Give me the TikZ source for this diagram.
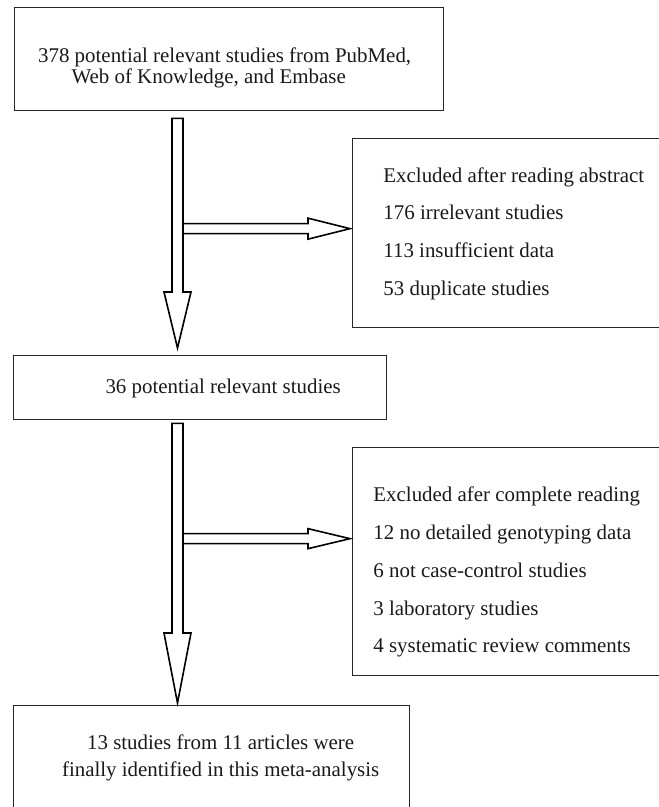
\documentclass[tikz,border=0pt]{standalone}
\usepackage{fontspec}
\setmainfont{Liberation Serif}
\usetikzlibrary{calc, positioning}

\begin{document}
\begin{tikzpicture}[x=0.5bp, y=-0.5bp, line join=miter,
    box/.style={draw=black!85, line width=0.65bp, anchor=north west, inner sep=0pt},
    txt/.style={font=\fontsize{10.5}{19}\selectfont, inner sep=0pt, text=black!90},
    hollow/.style={draw=black, line width=0.8bp, fill=white}]

    % =================================================================
    % 1. PAGE FRAME
    % =================================================================
    \useasboundingbox (0,0) rectangle (659,807);
    \clip (0,0) rectangle (659,807);

    % =================================================================
    % 2. BOXES
    % =================================================================
    \node[box, minimum width=214.5bp, minimum height=51.5bp] (search) at (14,7) {};
    \node[box, minimum width=165bp, minimum height=94.5bp] (excl1) at (352,138) {};
    \node[box, minimum width=186.5bp, minimum height=32bp] (mid) at (13,355) {};
    \node[box, minimum width=165bp, minimum height=114bp] (excl2) at (352,447) {};
    \node[box, minimum width=198bp, minimum height=55bp] (final) at (13,705) {};

    % =================================================================
    % 3. TEXTS
    % =================================================================
    \node[txt, align=center, font=\fontsize{10.5}{10.5}\selectfont] (searchtxt)
        at ($(search.center)+(-4.5,9)$)
        {378 potential relevant studies from PubMed,\\
         Web of Knowledge, and Embase\hspace*{16bp}};
    \node[txt, anchor=west, align=left] (excl1txt) at ($(excl1.west)+(31,0.5)$)
        {Excluded after reading abstract\\
         176 irrelevant studies\\
         113 insufficient data\\
         53 duplicate studies};
    \node[txt] (midtxt) at ($(mid.center)+(23,1)$) {36 potential relevant studies};
    \node[txt, anchor=west, align=left] (excl2txt) at ($(excl2.west)+(21,10.5)$)
        {Excluded afer complete reading\\
         12 no detailed genotyping data\\
         6 not case-control studies\\
         3 laboratory studies\\
         4 systematic review comments};
    \node[txt, align=center, font=\fontsize{10.5}{13.5}\selectfont] (finaltxt)
        at ($(final.center)+(9,-3)$)
        {13 studies from 11 articles were\\
         finally identified in this meta-analysis};

    % =================================================================
    % 4. HOLLOW ARROWS
    % =================================================================
    \coordinate (col) at (177.5,0);

    % search -> mid
    \coordinate (a1) at ($(search.south -| col)+(0,7)$);
    \coordinate (b1) at ($(mid.north -| col)+(0,-7)$);
    \draw[hollow] ($(a1)+(-5.5,0)$) -- ($(a1)+(5.5,0)$) -- ($(b1)+(5.5,-56)$)
        -- ($(b1)+(13.5,-56)$) -- (b1) -- ($(b1)+(-13.5,-56)$)
        -- ($(b1)+(-5.5,-56)$) -- cycle;

    % branch -> excl1
    \coordinate (t1) at ($(excl1.west)+(-2,-4.5)$);
    \coordinate (s1) at ($(t1 -| col)+(5.5,0)$);
    \draw[hollow] ($(s1)+(0,-5)$) -- ($(t1)+(-42,-5)$) -- ($(t1)+(-42,-10.5)$)
        -- (t1) -- ($(t1)+(-42,10.5)$) -- ($(t1)+(-42,5)$)
        -- ($(s1)+(0,5)$) -- cycle;

    % mid -> final
    \coordinate (a2) at ($(mid.south -| col)+(0,3)$);
    \coordinate (b2) at ($(final.north -| col)+(0,-2)$);
    \draw[hollow] ($(a2)+(-5.5,0)$) -- ($(a2)+(5.5,0)$) -- ($(b2)+(5.5,-70)$)
        -- ($(b2)+(13.5,-70)$) -- (b2) -- ($(b2)+(-13.5,-70)$)
        -- ($(b2)+(-5.5,-70)$) -- cycle;

    % branch -> excl2
    \coordinate (t2) at ($(excl2.west)+(-2,-23)$);
    \coordinate (s2) at ($(t2 -| col)+(5.5,0)$);
    \draw[hollow] ($(s2)+(0,-5)$) -- ($(t2)+(-42,-5)$) -- ($(t2)+(-42,-10)$)
        -- (t2) -- ($(t2)+(-42,10)$) -- ($(t2)+(-42,5)$)
        -- ($(s2)+(0,5)$) -- cycle;

\end{tikzpicture}
\end{document}
